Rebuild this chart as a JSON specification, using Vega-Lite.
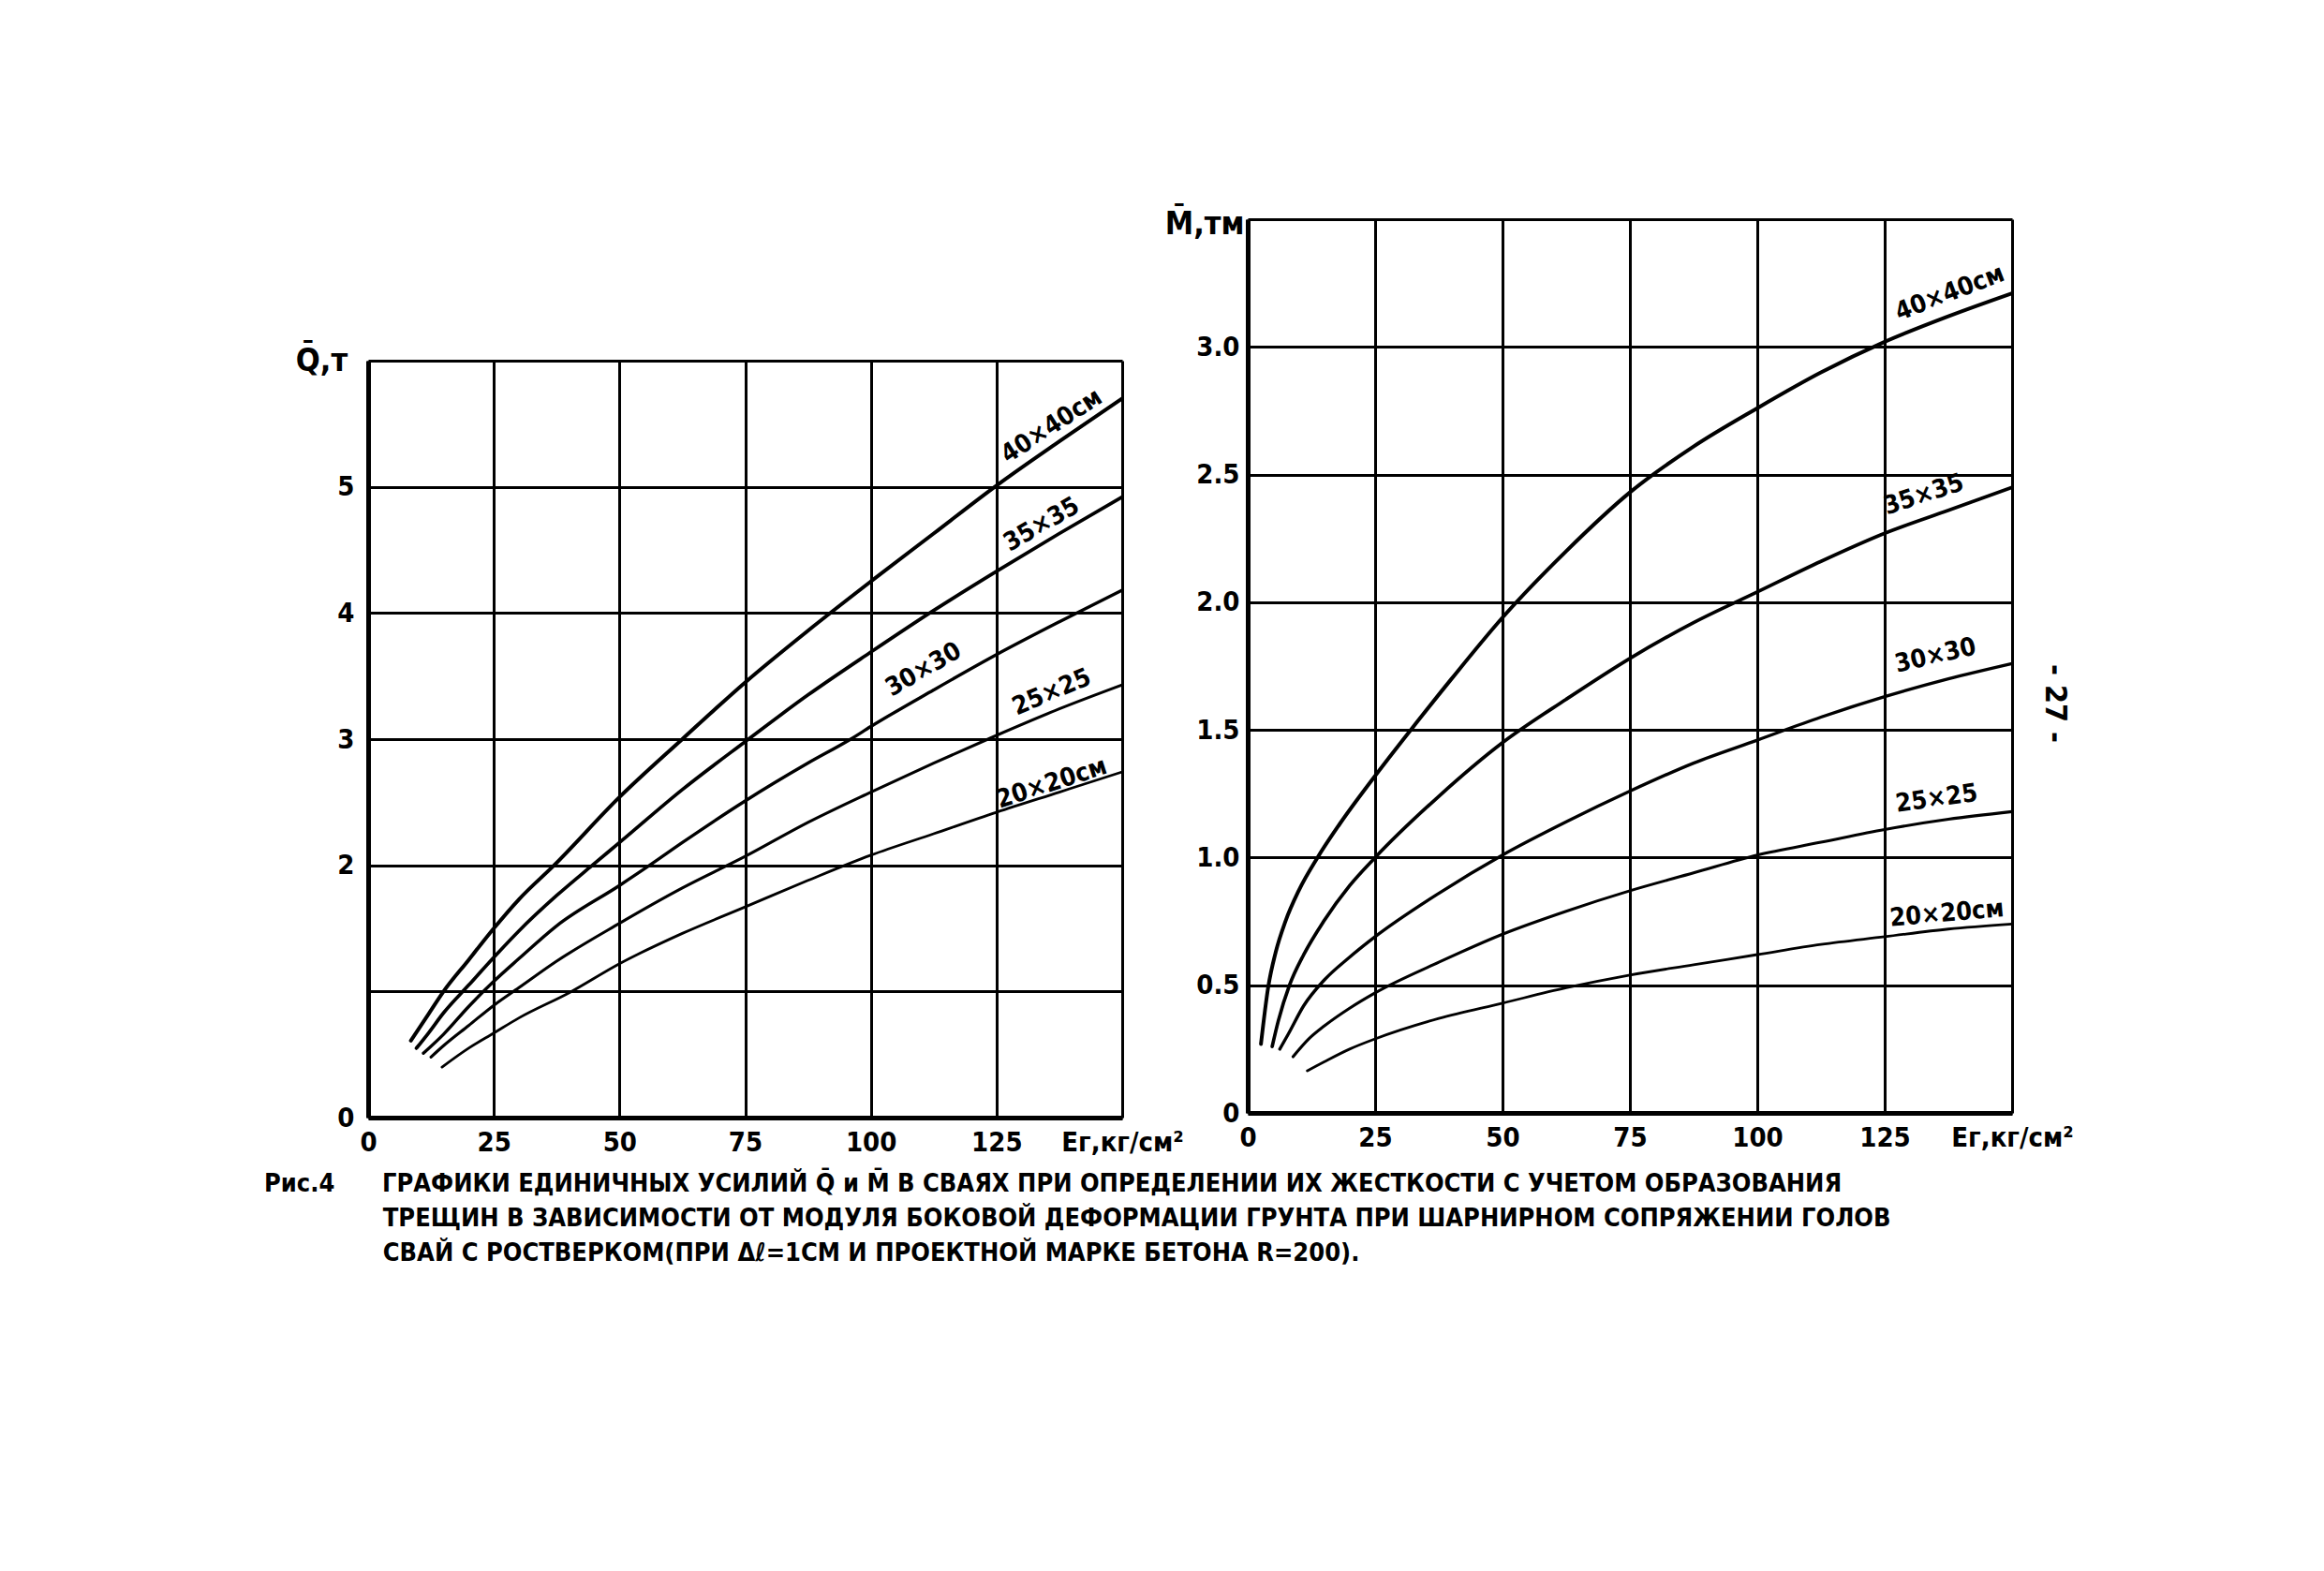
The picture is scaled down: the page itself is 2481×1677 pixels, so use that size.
{
  "$schema": "https://vega.github.io/schema/vega-lite/v6.json",
  "background": "white",
  "padding": {"left": 282, "top": 220, "right": 20, "bottom": 20},
  "config": {
    "view": {"stroke": null},
    "font": "DejaVu Sans Condensed",
    "axis": {
      "labelFont": "DejaVu Sans Condensed",
      "labelFontSize": 29,
      "labelFontWeight": "bold",
      "labelColor": "black",
      "titleFont": "DejaVu Sans Condensed",
      "titleFontWeight": "bold",
      "titleColor": "black",
      "titleFontSize": 34,
      "grid": true,
      "gridColor": "black",
      "gridOpacity": 1,
      "gridWidth": 3,
      "domainColor": "black",
      "domainWidth": 5,
      "ticks": false,
      "labelFlush": false,
      "labelOverlap": false
    },
    "text": {"font": "DejaVu Sans Condensed", "fontWeight": "bold", "fontSize": 27, "color": "black", "align": "center", "baseline": "middle"}
  },
  "datasets": {
    "Q": [
      {"series": "40x40", "E": 8.5, "v": 0.61}, {"series": "40x40", "E": 12, "v": 0.82}, {"series": "40x40", "E": 15, "v": 1.0}, {"series": "40x40", "E": 20, "v": 1.25}, {"series": "40x40", "E": 25, "v": 1.5}, {"series": "40x40", "E": 30, "v": 1.73}, {"series": "40x40", "E": 37, "v": 2.0}, {"series": "40x40", "E": 50, "v": 2.54}, {"series": "40x40", "E": 62.5, "v": 3.0}, {"series": "40x40", "E": 75, "v": 3.45}, {"series": "40x40", "E": 87.5, "v": 3.86}, {"series": "40x40", "E": 100, "v": 4.25}, {"series": "40x40", "E": 112.5, "v": 4.63}, {"series": "40x40", "E": 125, "v": 5.01}, {"series": "40x40", "E": 137.5, "v": 5.36}, {"series": "40x40", "E": 150, "v": 5.7},
      {"series": "35x35", "E": 9.6, "v": 0.55}, {"series": "35x35", "E": 12, "v": 0.67}, {"series": "35x35", "E": 15, "v": 0.83}, {"series": "35x35", "E": 20, "v": 1.05}, {"series": "35x35", "E": 25, "v": 1.27}, {"series": "35x35", "E": 30, "v": 1.48}, {"series": "35x35", "E": 37.5, "v": 1.76}, {"series": "35x35", "E": 44.6, "v": 2.0}, {"series": "35x35", "E": 50, "v": 2.18}, {"series": "35x35", "E": 62.5, "v": 2.6}, {"series": "35x35", "E": 75, "v": 2.98}, {"series": "35x35", "E": 87.5, "v": 3.35}, {"series": "35x35", "E": 100, "v": 3.69}, {"series": "35x35", "E": 112.5, "v": 4.02}, {"series": "35x35", "E": 125, "v": 4.33}, {"series": "35x35", "E": 137.5, "v": 4.63}, {"series": "35x35", "E": 150, "v": 4.92},
      {"series": "30x30", "E": 11, "v": 0.51}, {"series": "30x30", "E": 15, "v": 0.66}, {"series": "30x30", "E": 20, "v": 0.88}, {"series": "30x30", "E": 25, "v": 1.08}, {"series": "30x30", "E": 30, "v": 1.26}, {"series": "30x30", "E": 37.5, "v": 1.52}, {"series": "30x30", "E": 50, "v": 1.84}, {"series": "30x30", "E": 56, "v": 2.0}, {"series": "30x30", "E": 62.5, "v": 2.18}, {"series": "30x30", "E": 75, "v": 2.51}, {"series": "30x30", "E": 87.5, "v": 2.81}, {"series": "30x30", "E": 96, "v": 3.0}, {"series": "30x30", "E": 100, "v": 3.1}, {"series": "30x30", "E": 112.5, "v": 3.39}, {"series": "30x30", "E": 125, "v": 3.67}, {"series": "30x30", "E": 137.5, "v": 3.93}, {"series": "30x30", "E": 150, "v": 4.18},
      {"series": "25x25", "E": 12.5, "v": 0.48}, {"series": "25x25", "E": 15, "v": 0.57}, {"series": "25x25", "E": 20, "v": 0.73}, {"series": "25x25", "E": 25, "v": 0.89}, {"series": "25x25", "E": 30, "v": 1.03}, {"series": "25x25", "E": 37.5, "v": 1.24}, {"series": "25x25", "E": 50, "v": 1.54}, {"series": "25x25", "E": 62.5, "v": 1.82}, {"series": "25x25", "E": 75, "v": 2.07}, {"series": "25x25", "E": 87.5, "v": 2.34}, {"series": "25x25", "E": 100, "v": 2.58}, {"series": "25x25", "E": 112.5, "v": 2.81}, {"series": "25x25", "E": 125, "v": 3.03}, {"series": "25x25", "E": 137.5, "v": 3.24}, {"series": "25x25", "E": 150, "v": 3.43},
      {"series": "20x20", "E": 14.7, "v": 0.4}, {"series": "20x20", "E": 20, "v": 0.55}, {"series": "20x20", "E": 25, "v": 0.67}, {"series": "20x20", "E": 30, "v": 0.79}, {"series": "20x20", "E": 40, "v": 0.99}, {"series": "20x20", "E": 50, "v": 1.22}, {"series": "20x20", "E": 62.5, "v": 1.46}, {"series": "20x20", "E": 75, "v": 1.67}, {"series": "20x20", "E": 87.5, "v": 1.88}, {"series": "20x20", "E": 100, "v": 2.08}, {"series": "20x20", "E": 112.5, "v": 2.25}, {"series": "20x20", "E": 125, "v": 2.42}, {"series": "20x20", "E": 137.5, "v": 2.58}, {"series": "20x20", "E": 150, "v": 2.74}
    ],
    "M": [
      {"series": "40x40", "E": 2.6, "v": 0.27}, {"series": "40x40", "E": 4, "v": 0.49}, {"series": "40x40", "E": 5.5, "v": 0.63}, {"series": "40x40", "E": 7.4, "v": 0.75}, {"series": "40x40", "E": 10, "v": 0.87}, {"series": "40x40", "E": 13.7, "v": 1.0}, {"series": "40x40", "E": 18, "v": 1.13}, {"series": "40x40", "E": 25, "v": 1.32}, {"series": "40x40", "E": 32, "v": 1.5}, {"series": "40x40", "E": 40, "v": 1.7}, {"series": "40x40", "E": 50, "v": 1.94}, {"series": "40x40", "E": 62.5, "v": 2.2}, {"series": "40x40", "E": 75, "v": 2.43}, {"series": "40x40", "E": 87.5, "v": 2.61}, {"series": "40x40", "E": 100, "v": 2.76}, {"series": "40x40", "E": 112.5, "v": 2.9}, {"series": "40x40", "E": 125, "v": 3.02}, {"series": "40x40", "E": 137.5, "v": 3.12}, {"series": "40x40", "E": 150, "v": 3.21},
      {"series": "35x35", "E": 4.8, "v": 0.26}, {"series": "35x35", "E": 6, "v": 0.36}, {"series": "35x35", "E": 8.2, "v": 0.5}, {"series": "35x35", "E": 11, "v": 0.62}, {"series": "35x35", "E": 14.9, "v": 0.75}, {"series": "35x35", "E": 20, "v": 0.89}, {"series": "35x35", "E": 25, "v": 1.0}, {"series": "35x35", "E": 37.5, "v": 1.24}, {"series": "35x35", "E": 50, "v": 1.45}, {"series": "35x35", "E": 62.5, "v": 1.62}, {"series": "35x35", "E": 75, "v": 1.78}, {"series": "35x35", "E": 87.5, "v": 1.92}, {"series": "35x35", "E": 100, "v": 2.04}, {"series": "35x35", "E": 112.5, "v": 2.16}, {"series": "35x35", "E": 125, "v": 2.27}, {"series": "35x35", "E": 137.5, "v": 2.36}, {"series": "35x35", "E": 150, "v": 2.45},
      {"series": "30x30", "E": 6.3, "v": 0.25}, {"series": "30x30", "E": 8, "v": 0.31}, {"series": "30x30", "E": 11, "v": 0.42}, {"series": "30x30", "E": 15, "v": 0.52}, {"series": "30x30", "E": 20, "v": 0.61}, {"series": "30x30", "E": 25, "v": 0.69}, {"series": "30x30", "E": 37.5, "v": 0.86}, {"series": "30x30", "E": 50, "v": 1.01}, {"series": "30x30", "E": 62.5, "v": 1.14}, {"series": "30x30", "E": 75, "v": 1.26}, {"series": "30x30", "E": 87.5, "v": 1.37}, {"series": "30x30", "E": 100, "v": 1.46}, {"series": "30x30", "E": 112.5, "v": 1.55}, {"series": "30x30", "E": 125, "v": 1.63}, {"series": "30x30", "E": 137.5, "v": 1.7}, {"series": "30x30", "E": 150, "v": 1.76},
      {"series": "25x25", "E": 8.9, "v": 0.22}, {"series": "25x25", "E": 12, "v": 0.29}, {"series": "25x25", "E": 15, "v": 0.34}, {"series": "25x25", "E": 20, "v": 0.41}, {"series": "25x25", "E": 25, "v": 0.47}, {"series": "25x25", "E": 37.5, "v": 0.59}, {"series": "25x25", "E": 50, "v": 0.7}, {"series": "25x25", "E": 62.5, "v": 0.79}, {"series": "25x25", "E": 75, "v": 0.87}, {"series": "25x25", "E": 87.5, "v": 0.94}, {"series": "25x25", "E": 100, "v": 1.01}, {"series": "25x25", "E": 112.5, "v": 1.06}, {"series": "25x25", "E": 125, "v": 1.11}, {"series": "25x25", "E": 137.5, "v": 1.15}, {"series": "25x25", "E": 150, "v": 1.18},
      {"series": "20x20", "E": 11.7, "v": 0.165}, {"series": "20x20", "E": 15, "v": 0.2}, {"series": "20x20", "E": 20, "v": 0.25}, {"series": "20x20", "E": 25, "v": 0.29}, {"series": "20x20", "E": 37.5, "v": 0.37}, {"series": "20x20", "E": 50, "v": 0.43}, {"series": "20x20", "E": 62.5, "v": 0.49}, {"series": "20x20", "E": 75, "v": 0.54}, {"series": "20x20", "E": 87.5, "v": 0.58}, {"series": "20x20", "E": 100, "v": 0.62}, {"series": "20x20", "E": 112.5, "v": 0.66}, {"series": "20x20", "E": 125, "v": 0.69}, {"series": "20x20", "E": 137.5, "v": 0.72}, {"series": "20x20", "E": 150, "v": 0.74}
    ],
    "QL": [
      {"label": "40×40см", "E": 136, "v": 5.48},
      {"label": "35×35", "E": 134, "v": 4.7},
      {"label": "30×30", "E": 110.5, "v": 3.55},
      {"label": "25×25", "E": 136, "v": 3.37},
      {"label": "20×20см", "E": 136, "v": 2.65}
    ],
    "ML": [
      {"label": "40×40см", "E": 137.8, "v": 3.21},
      {"label": "35×35", "E": 132.7, "v": 2.42},
      {"label": "30×30", "E": 135, "v": 1.79},
      {"label": "25×25", "E": 135.2, "v": 1.23},
      {"label": "20×20см", "E": 137.2, "v": 0.78}
    ]
  },
  "title": {
    "text": [
      "Рис.4\u00a0\u00a0\u00a0\u00a0\u00a0\u00a0ГРАФИКИ ЕДИНИЧНЫХ УСИЛИЙ Q̄ и M̄ В СВАЯХ ПРИ ОПРЕДЕЛЕНИИ ИХ ЖЕСТКОСТИ С УЧЕТОМ ОБРАЗОВАНИЯ",
      "\u200b\u00a0\u00a0\u00a0\u00a0\u00a0\u00a0\u00a0\u00a0\u00a0\u00a0\u00a0\u00a0\u00a0\u00a0\u00a0ТРЕЩИН В ЗАВИСИМОСТИ ОТ МОДУЛЯ БОКОВОЙ ДЕФОРМАЦИИ ГРУНТА ПРИ ШАРНИРНОМ СОПРЯЖЕНИИ ГОЛОВ",
      "\u200b\u00a0\u00a0\u00a0\u00a0\u00a0\u00a0\u00a0\u00a0\u00a0\u00a0\u00a0\u00a0\u00a0\u00a0\u00a0СВАЙ С РОСТВЕРКОМ(ПРИ Δℓ=1СМ И ПРОЕКТНОЙ МАРКЕ БЕТОНА R=200)."
    ],
    "orient": "bottom",
    "anchor": "start",
    "frame": "group",
    "dx": -111,
    "offset": 17,
    "font": "DejaVu Sans Condensed",
    "fontSize": 27,
    "fontWeight": "bold",
    "lineHeight": 37,
    "color": "black"
  },
  "spacing": -21,
  "hconcat": [
    {
      "bounds": "flush",
      "spacing": 0,
      "vconcat": [
        {
          "width": 805,
          "height": 151,
          "data": {"values": [{"t": ""}]},
          "mark": {"type": "text", "text": ""}
        },
        {
          "width": 805,
          "height": 808,
          "data": {"name": "Q"},
          "encoding": {
            "x": {"field": "E", "type": "quantitative", "scale": {"domain": [0, 150], "nice": false},
              "axis": {"values": [0, 25, 50, 75, 100, 125, 150], "labelExpr": "datum.value == 150 ? 'Eг,кг/см²' : datum.label", "labelPadding": 12, "title": null}},
            "y": {"field": "v", "type": "quantitative", "scale": {"domain": [0, 6], "nice": false},
              "axis": {"values": [0, 1, 2, 3, 4, 5, 6], "labelExpr": "datum.value == 1 || datum.value == 6 ? '' : datum.label", "labelPadding": 15, "title": "Q̄,т", "titleAngle": 0, "titleX": -50, "titleY": 0, "titleAlign": "center", "titleBaseline": "middle"}}
          },
          "layer": [
            {
              "mark": {"type": "line", "color": "black", "interpolate": "monotone", "strokeCap": "round"},
              "encoding": {
                "strokeWidth": {"field": "series", "type": "ordinal", "scale": {"domain": ["40x40", "35x35", "30x30", "25x25", "20x20"], "range": [4.0, 2.8, 5.6, 2.8, 3.4]}, "legend": null}
              }
            },
            {"data": {"name": "QL"}, "transform": [{"filter": "datum.label == '40×40см'"}], "mark": {"type": "text", "angle": -33}, "encoding": {"text": {"field": "label"}}},
            {"data": {"name": "QL"}, "transform": [{"filter": "datum.label == '35×35'"}], "mark": {"type": "text", "angle": -30}, "encoding": {"text": {"field": "label"}}},
            {"data": {"name": "QL"}, "transform": [{"filter": "datum.label == '30×30'"}], "mark": {"type": "text", "angle": -30}, "encoding": {"text": {"field": "label"}}},
            {"data": {"name": "QL"}, "transform": [{"filter": "datum.label == '25×25'"}], "mark": {"type": "text", "angle": -23}, "encoding": {"text": {"field": "label"}}},
            {"data": {"name": "QL"}, "transform": [{"filter": "datum.label == '20×20см'"}], "mark": {"type": "text", "angle": -18}, "encoding": {"text": {"field": "label"}}}
          ]
        }
      ]
    },
    {
      "width": 816,
      "height": 954,
      "title": {"text": "- 27 -", "orient": "right", "anchor": "middle", "offset": -36, "dx": 40, "font": "DejaVu Sans Condensed", "fontSize": 32, "fontWeight": "bold", "color": "black"},
      "data": {"name": "M"},
      "encoding": {
        "x": {"field": "E", "type": "quantitative", "scale": {"domain": [0, 150], "nice": false},
          "axis": {"values": [0, 25, 50, 75, 100, 125, 150], "labelExpr": "datum.value == 150 ? 'Eг,кг/см²' : datum.label", "labelPadding": 12, "title": null}},
        "y": {"field": "v", "type": "quantitative", "scale": {"domain": [0, 3.5], "nice": false},
          "axis": {"values": [0, 0.5, 1, 1.5, 2, 2.5, 3, 3.5], "labelExpr": "datum.value == 0 ? '0' : datum.value == 3.5 ? '' : format(datum.value, '.1f')", "labelPadding": 9, "title": "M̄,тм", "titleAngle": 0, "titleX": -4, "titleY": 5, "titleAlign": "right", "titleBaseline": "middle"}}
      },
      "layer": [
        {
          "mark": {"type": "line", "color": "black", "interpolate": "monotone", "strokeCap": "round"},
          "encoding": {
            "strokeWidth": {"field": "series", "type": "ordinal", "scale": {"domain": ["40x40", "35x35", "30x30", "25x25", "20x20"], "range": [4.0, 3.2, 5.6, 3.8, 2.8]}, "legend": null}
          }
        },
        {"data": {"name": "ML"}, "transform": [{"filter": "datum.label == '40×40см'"}], "mark": {"type": "text", "angle": -21}, "encoding": {"text": {"field": "label"}}},
        {"data": {"name": "ML"}, "transform": [{"filter": "datum.label == '35×35'"}], "mark": {"type": "text", "angle": -18}, "encoding": {"text": {"field": "label"}}},
        {"data": {"name": "ML"}, "transform": [{"filter": "datum.label == '30×30'"}], "mark": {"type": "text", "angle": -13}, "encoding": {"text": {"field": "label"}}},
        {"data": {"name": "ML"}, "transform": [{"filter": "datum.label == '25×25'"}], "mark": {"type": "text", "angle": -8}, "encoding": {"text": {"field": "label"}}},
        {"data": {"name": "ML"}, "transform": [{"filter": "datum.label == '20×20см'"}], "mark": {"type": "text", "angle": -5}, "encoding": {"text": {"field": "label"}}}
      ]
    }
  ]
}
